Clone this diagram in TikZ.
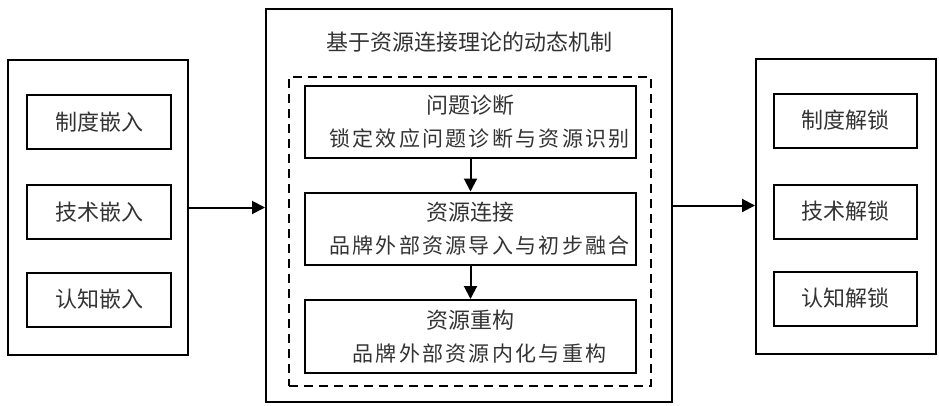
\documentclass[tikz,border=0pt]{standalone}
\usepackage{fontspec}
\usepackage{tikz}
\usetikzlibrary{arrows.meta}
\newfontfamily\cjk{Noto Sans CJK SC}
\newfontfamily\cjkwide[LetterSpace=11]{Noto Sans CJK SC}
\definecolor{txtgray}{HTML}{333333}

\tikzset{
  frame/.style={draw, line width=2pt, inner sep=0pt},
  smallbox/.style={frame, minimum width=144pt, minimum height=54pt, font=\cjk\fontsize{22}{24}\selectfont, text=txtgray},
  stagebox/.style={frame, minimum width=331pt, minimum height=72pt, align=center, font=\cjk\fontsize{22}{33}\selectfont, text=txtgray},
  flow/.style={-{Triangle[length=13pt,width=13pt]}, line width=2pt}
}

\begin{document}
\begin{tikzpicture}[x=1pt, y=-1pt]
            \useasboundingbox (0,0) rectangle (939,405);

            % Left: embedding
            \node[frame, minimum width=180pt, minimum height=295pt] (embed) at (98,207.5) {};
            \node[smallbox] (embedA) at (99,122) {制度嵌入};
            \node[smallbox] (embedB) at (99,212) {技术嵌入};
            \node[smallbox] (embedC) at (99,299.5) {认知嵌入};

            % Middle: dynamic mechanism
            \node[frame, minimum width=406pt, minimum height=393pt] (mech) at (469,205.5) {};
            \node[font=\cjk\fontsize{22}{24}\selectfont, text=txtgray] (mechtitle) at (469,42) {基于资源连接理论的动态机制};
            \node[draw, dashed, dash pattern=on 9pt off 6pt, line width=2pt, minimum width=362pt, minimum height=309pt] (stages) at (470,231.5) {};
            \node[stagebox] (diag) at (470.5,121.5) {问题诊断\\\hspace*{18pt}{\cjkwide\fontsize{21}{33}\selectfont 锁定效应问题诊断与资源识别}};
            \node[stagebox] (conn) at (470.5,228.5) {资源连接\\\hspace*{18pt}{\cjkwide\fontsize{21}{33}\selectfont 品牌外部资源导入与初步融合}};
            \node[stagebox, minimum height=73pt] (recon) at (470.5,336.5) {资源重构\\\hspace*{18pt}{\cjkwide\fontsize{21}{33}\selectfont 品牌外部资源内化与重构}};
            \draw[flow] (diag) -- (conn);
            \draw[flow] (conn) -- (recon);

            % Right: unlocking
            \node[frame, minimum width=180pt, minimum height=295pt] (unlock) at (846,206.5) {};
            \node[smallbox, minimum width=143pt] (unlockA) at (845.5,120.5) {制度解锁};
            \node[smallbox, minimum width=143pt] (unlockB) at (845.5,211.5) {技术解锁};
            \node[smallbox, minimum width=143pt] (unlockC) at (845.5,298.5) {认知解锁};

            % Connections
            \draw[flow] (embed.east) -- (embed.east -| mech.west);
            \draw[flow] (mech.east) -- (mech.east -| unlock.west);
        \end{tikzpicture}
\end{document}
